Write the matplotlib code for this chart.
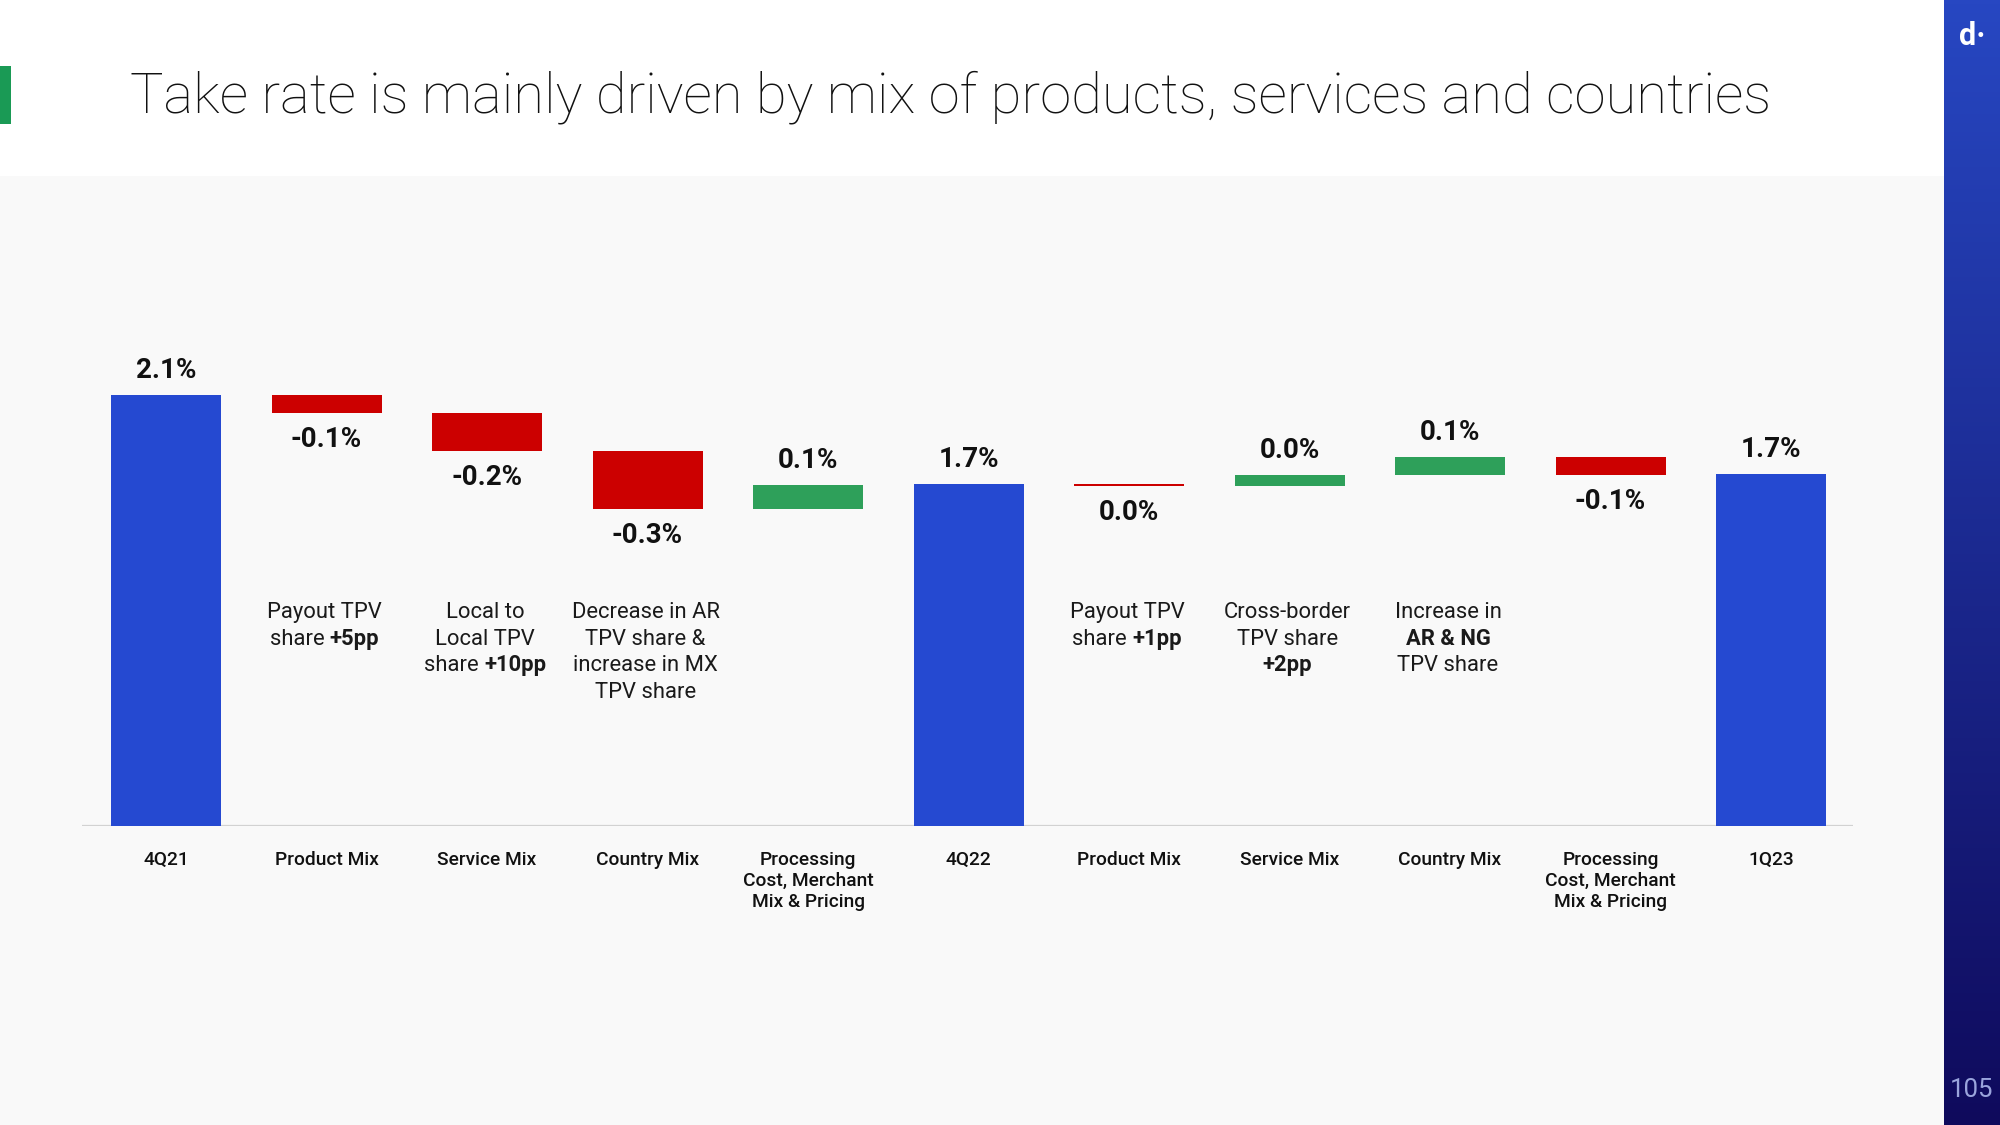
import numpy as np
import matplotlib
matplotlib.use("Agg")
import matplotlib.pyplot as plt
from matplotlib.colors import LinearSegmentedColormap
from matplotlib.patches import Rectangle

plt.rcParams['font.family'] = ['Roboto', 'DejaVu Sans']

# data (take rate, %)
categories = [
    "4Q21", "Product Mix", "Service Mix", "Country Mix",
    "Processing\nCost, Merchant\nMix & Pricing", "4Q22",
    "Product Mix", "Service Mix", "Country Mix",
    "Processing\nCost, Merchant\nMix & Pricing", "1Q23",
]
values = [2.10, -0.088, -0.185, -0.283, 0.117, 1.667, -0.008, 0.05, 0.088, -0.088, 1.715]
is_total = [True, False, False, False, False, True, False, False, False, False, True]
value_labels = ["2.1%", "-0.1%", "-0.2%", "-0.3%", "0.1%", "1.7%",
                "0.0%", "0.0%", "0.1%", "-0.1%", "1.7%"]

# driver notes under the bars, *...* = bold
notes = {
    1: ["Payout TPV", "share *+5pp*"],
    2: ["Local to", "Local TPV", "share *+10pp*"],
    3: ["Decrease in AR", "TPV share &", "increase in MX", "TPV share"],
    6: ["Payout TPV", "share *+1pp*"],
    7: ["Cross-border", "TPV share", "*+2pp*"],
    8: ["Increase in", "*AR & NG*", "TPV share"],
}

title = "Take rate is mainly driven by mix of products, services and countries"

BLUE = "#2549d1"
RED = "#cc0000"
GREEN = "#2ea05a"
W, H = 2000, 1125

fig = plt.figure(figsize=(20, 11.25), dpi=100)
fig.patch.set_facecolor("#f9f9f9")

# white header band + green accent
fig.add_artist(Rectangle((0, 1 - 176 / H), 1, 176 / H, transform=fig.transFigure,
                         facecolor="white", edgecolor="none", zorder=0))
fig.add_artist(Rectangle((0, 1 - 124 / H), 11 / W, 58 / H, transform=fig.transFigure,
                         facecolor="#1a9a55", edgecolor="none", zorder=1))
fig.text(130 / W, 1 - 112 / H, title, fontsize=40.4, fontweight="light",
         color="#111111", va="baseline", ha="left")

# right side strip
strip = fig.add_axes([1944 / W, 0, 56 / W, 1])
grad = np.linspace(0, 1, 256).reshape(-1, 1)
strip.imshow(grad, aspect="auto", cmap=LinearSegmentedColormap.from_list("s", ["#2747c2", "#0f0a5c"]))
strip.axis("off")
fig.text(1972 / W, 1 - 36 / H, "d·", color="white", fontsize=22, fontweight="bold",
         ha="center", va="center")
fig.text(1972 / W, 1 - 1090 / H, "105", color="#9aa4dc", fontsize=18.5,
         ha="center", va="center")

# chart
ax = fig.add_axes([82 / W, 1 - 826 / H, (1853 - 82) / W, 526 / H])
ax.set_facecolor("none")
ppu = 205.2  # px per 1 %
step = 160.5
ax.set_xlim((82 - 166) / step, (1853 - 166) / step)
ax.set_ylim(0, 526 / ppu)

x = np.arange(len(categories))
bottoms, heights, colors = [], [], []
level = 0
for v, tot in zip(values, is_total):
    if tot:
        bottoms.append(0)
        heights.append(v)
        colors.append(BLUE)
        level = v
    else:
        bottoms.append(level)
        heights.append(v)
        colors.append(GREEN if v > 0 else RED)
        level += v

ax.bar(x, heights, bottom=bottoms, width=110 / step, color=colors, linewidth=0, zorder=2)
ax.axhline(0, color="#d2d2d2", lw=1.6, zorder=1)

for i in range(len(categories)):
    top = bottoms[i] + max(heights[i], 0)
    low = bottoms[i] + min(heights[i], 0)
    if heights[i] >= 0:
        ax.annotate(value_labels[i], (i, top), xytext=(0, 17 * 0.72), textcoords="offset points",
                    ha="center", va="baseline", fontsize=20, fontweight="bold", color="#111111")
    else:
        ax.annotate(value_labels[i], (i, low), xytext=(0, -34 * 0.72), textcoords="offset points",
                    ha="center", va="baseline", fontsize=20, fontweight="bold", color="#111111")

for s in ax.spines.values():
    s.set_visible(False)
ax.set_yticks([])
ax.set_xticks(x)
ax.set_xticklabels(categories, fontsize=13.8, fontweight="medium", color="#111111",
                   linespacing=1.22)
ax.tick_params(axis="x", length=0, pad=18)

# notes with mixed weights
renderer = fig.canvas.get_renderer()
for i, lines in notes.items():
    cx = ax.transData.transform((i, 0))[0] - 2
    for k, line in enumerate(lines):
        parts = line.split("*")
        segs = [(p, j % 2 == 1) for j, p in enumerate(parts) if p]
        y = 1 - (618 + k * 26.7) / H
        texts = []
        for s, b in segs:
            t = fig.text(0, y, s, fontsize=15.8, fontweight="bold" if b else "normal",
                         color="#1a1a1a", ha="left", va="baseline")
            texts.append(t)
        widths = [t.get_window_extent(renderer).width for t in texts]
        xpos = cx - sum(widths) / 2
        for t, wd in zip(texts, widths):
            t.set_x(xpos / W)
            xpos += wd

fig.savefig("out.png", dpi=100, facecolor=fig.get_facecolor())
